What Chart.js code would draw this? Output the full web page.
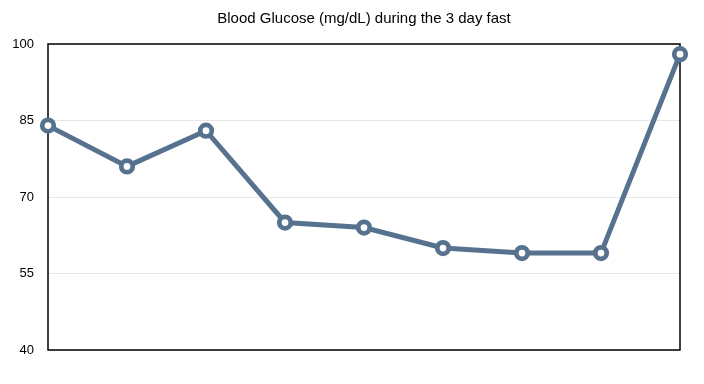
<!DOCTYPE html>
<html>
<head>
<meta charset="utf-8">
<script src="https://cdn.jsdelivr.net/npm/chart.js@4"></script>
<style>
  html, body { margin: 0; padding: 0; background: #fff; }
  #wrap { width: 704px; height: 384px; }
</style>
</head>
<body>
<div id="wrap"><canvas id="glucose-chart" width="704" height="384"></canvas></div>
<script>
const readings = ['1', '2', '3', '4', '5', '6', '7', '8', '9']
const glucose = [84, 76, 83, 65, 64, 60, 59, 59, 98]
const yTicks = [40, 55, 70, 85, 100]

const lineColor = 'rgb(86, 114, 142)'

// black frame round the plot, drawn under the line
const frame = {
    id: 'frame',
    beforeDatasetsDraw(chart) {
        const { ctx, chartArea } = chart
        ctx.save()
        ctx.strokeStyle = '#000'
        ctx.lineWidth = 1.5
        ctx.strokeRect(chartArea.left, chartArea.top, chartArea.right - chartArea.left, chartArea.bottom - chartArea.top)
        ctx.restore()
    }
}

const ctx = document.getElementById('glucose-chart').getContext('2d')
const myChart = new Chart(ctx, {
    type: 'line',
    data: {
        labels: readings,
        datasets: [{
            label: 'Blood Glucose',
            data: glucose,
            borderColor: lineColor,
            borderWidth: 5,
            pointBackgroundColor: '#fff',
            pointBorderColor: lineColor,
            pointBorderWidth: 4.75,
            pointRadius: 5.75,
            tension: 0,
            clip: false
        }]
    },
    options: {
        responsive: false,
        animation: false,
        layout: {
            padding: { left: 0, right: 24, top: 0, bottom: 34 }
        },
        plugins: {
            legend: { display: false },
            tooltip: { enabled: false },
            title: {
                display: true,
                fullSize: false,
                text: 'Blood Glucose (mg/dL) during the 3 day fast',
                color: '#000',
                font: { family: 'Liberation Sans', size: 15, weight: 'normal' },
                padding: { top: 10, bottom: 16 }
            }
        },
        scales: {
            x: {
                display: false,
                offset: false
            },
            y: {
                min: 40,
                max: 100,
                afterBuildTicks: (scale) => {
                    scale.ticks = yTicks.map(v => ({ value: v }))
                },
                afterFit: (scale) => {
                    scale.width = 48
                },
                border: { display: false },
                grid: {
                    color: '#e6e6e6',
                    drawTicks: false
                },
                ticks: {
                    color: '#000',
                    padding: 14,
                    font: { family: 'Liberation Sans', size: 13 }
                }
            }
        }
    },
    plugins: [frame]
});
</script>
</body>
</html>
